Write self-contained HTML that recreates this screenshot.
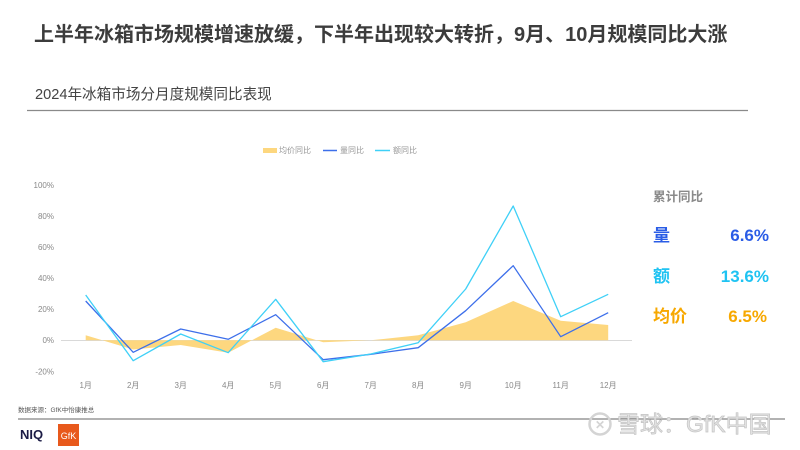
<!DOCTYPE html>
<html><head><meta charset="utf-8"><style>
html,body{margin:0;padding:0;background:#fff;}
svg{display:block;}
text{font-family:"Liberation Sans","Noto Sans CJK SC",sans-serif;}
</style></head><body>
<svg width="800" height="450" viewBox="0 0 800 450" xmlns="http://www.w3.org/2000/svg">
<rect width="800" height="450" fill="#fff"/>
<text x="34" y="41" font-size="20" font-weight="bold" fill="#3c3c3c">上半年冰箱市场规模增速放缓，下半年出现较大转折，9月、10月规模同比大涨</text>
<text x="35" y="99" font-size="14.6" fill="#444">2024年冰箱市场分月度规模同比表现</text>
<line x1="27" y1="110.5" x2="748" y2="110.5" stroke="#8a8a8a" stroke-width="1.3"/>

<!-- legend -->
<rect x="263" y="148" width="14" height="5" fill="#FDD77F"/>
<text x="279" y="153" font-size="8" fill="#999">均价同比</text>
<line x1="323" y1="150.5" x2="337" y2="150.5" stroke="#3D6FEA" stroke-width="1.5"/>
<text x="340" y="153" font-size="8" fill="#999">量同比</text>
<line x1="375" y1="150.5" x2="390" y2="150.5" stroke="#3FD0F7" stroke-width="1.5"/>
<text x="393" y="153" font-size="8" fill="#999">额同比</text>

<!-- y ticks -->
<g font-size="8" fill="#888" text-anchor="end">
<text x="54" y="188">100%</text>
<text x="54" y="219">80%</text>
<text x="54" y="250">60%</text>
<text x="54" y="281">40%</text>
<text x="54" y="312">20%</text>
<text x="54" y="343">0%</text>
<text x="54" y="374.5">-20%</text>
</g>

<!-- area -->
<line x1="61" y1="340.5" x2="632" y2="340.5" stroke="#d9d9d9" stroke-width="1"/>
<polygon fill="#FDD77F" points="85.7,340.3 85.7,335.3 133.2,349.5 180.7,345 228.2,352.7 275.7,327.7 323.2,342.3 370.7,340.3 418.2,335.3 465.7,322.3 513.2,301 560.7,320.7 608.2,325 608.2,340.3"/>

<polyline fill="none" stroke="#3D6FEA" stroke-width="1.3" stroke-linejoin="round" points="85.7,301 133.2,352.3 180.7,329 228.2,339.3 275.7,314.7 323.2,359.7 370.7,354.3 418.2,347.7 465.7,310.7 513.2,265.7 560.7,336.7 608.2,312.7"/>
<polyline fill="none" stroke="#3FD0F7" stroke-width="1.3" stroke-linejoin="round" points="85.7,295 133.2,360.7 180.7,334 228.2,352.7 275.7,299.3 323.2,361.7 370.7,354 418.2,342.7 465.7,289 513.2,206 560.7,316.7 608.2,294.3"/>

<!-- x labels -->
<g font-size="8" fill="#888" text-anchor="middle">
<text x="85.7" y="388">1月</text>
<text x="133.2" y="388">2月</text>
<text x="180.7" y="388">3月</text>
<text x="228.2" y="388">4月</text>
<text x="275.7" y="388">5月</text>
<text x="323.2" y="388">6月</text>
<text x="370.7" y="388">7月</text>
<text x="418.2" y="388">8月</text>
<text x="465.7" y="388">9月</text>
<text x="513.2" y="388">10月</text>
<text x="560.7" y="388">11月</text>
<text x="608.2" y="388">12月</text>
</g>

<!-- right panel -->
<text x="653" y="201" font-size="12.5" font-weight="bold" fill="#8a8a8a">累计同比</text>
<text x="653" y="241" font-size="17" font-weight="bold" fill="#2A5CE6">量</text>
<text x="769" y="241" font-size="17" font-weight="bold" fill="#2A5CE6" text-anchor="end">6.6%</text>
<text x="653" y="282" font-size="17" font-weight="bold" fill="#1FC3F2">额</text>
<text x="769" y="282" font-size="17" font-weight="bold" fill="#1FC3F2" text-anchor="end">13.6%</text>
<text x="653" y="322" font-size="17" font-weight="bold" fill="#F7A800">均价</text>
<text x="767" y="322" font-size="17" font-weight="bold" fill="#F7A800" text-anchor="end">6.5%</text>

<!-- footer -->
<text x="18" y="412" font-size="6.5" fill="#555">数据来源：GfK中怡康推总</text>
<line x1="18" y1="419" x2="785" y2="419" stroke="#666" stroke-width="1"/>
<text x="20" y="439" font-size="13" font-weight="bold" fill="#1b1b45">NIQ</text>
<rect x="58" y="424" width="21" height="22" fill="#E8591C"/>
<text x="68.5" y="439" font-size="9" fill="#fff" text-anchor="middle">GfK</text>

<!-- watermark -->
<g>
<circle cx="600" cy="424" r="10.5" fill="none" stroke="#d4d4d4" stroke-width="2.5"/>
<text x="600" y="429" font-size="12" fill="#d4d4d4" text-anchor="middle" font-weight="bold">✕</text>
<text x="617" y="432" font-size="23" fill="#e2e2e2" stroke="#c4c4c4" stroke-width="0.7">雪球：GfK中国</text>
</g>
</svg>
</body></html>
